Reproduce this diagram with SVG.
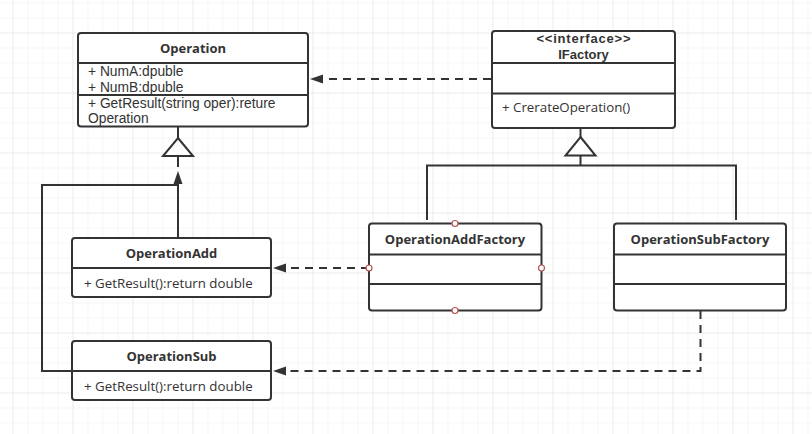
<svg xmlns="http://www.w3.org/2000/svg" width="812" height="434" viewBox="0 0 812 434">
  <defs>
    <pattern id="minor" patternUnits="userSpaceOnUse" x="12.5" y="2.5" width="15" height="15">
      <path d="M0 0 H15 M0 0 V15" fill="none" stroke="#efefef" stroke-width="1"/>
    </pattern>
    <pattern id="major" patternUnits="userSpaceOnUse" x="12.5" y="32.5" width="60" height="60">
      <path d="M0 0 H60 M0 0 V60" fill="none" stroke="#e2e2e2" stroke-width="1"/>
    </pattern>
    <marker id="arrow" markerUnits="userSpaceOnUse" markerWidth="14" markerHeight="10" refX="13" refY="5" orient="auto">
      <path d="M0 0.5 L13 5 L0 9.5 Z" fill="#333"/>
    </marker>
  </defs>
  <style>
    .box { fill: #fff; stroke: #333; stroke-width: 2; }
    .div { stroke: #333; stroke-width: 2; }
    .t { font-family: "Open Sans", "Liberation Sans", sans-serif; font-size: 13.3px; fill: #333; }
    .m { font-family: "Liberation Sans", Arial, sans-serif; font-size: 13.8px; fill: #333; }
    .b { font-weight: bold; text-anchor: middle; font-size: 13px; }
    .ln { fill: none; stroke: #333; stroke-width: 2; }
    .dash { fill: none; stroke: #333; stroke-width: 2; stroke-dasharray: 8 6; }
    .tri { fill: #fff; stroke: #333; stroke-width: 2; }
    .pt { fill: #fff; stroke: #b85450; stroke-width: 1.2; }
  </style>
  <rect width="812" height="434" fill="#fff"/>
  <rect width="812" height="434" fill="url(#minor)"/>
  <rect width="812" height="434" fill="url(#major)"/>

  <g id="connectors">
    <!-- IFactory -> Operation (dependency) -->
    <path class="dash" d="M491 79 H310" marker-end="url(#arrow)"/>
    <!-- Operation generalization -->
    <path class="ln" d="M178 127 V138"/>
    <path class="tri" d="M178 138 L193 156 L163 156 Z"/>
    <path class="ln" d="M178 157 V167"/>
    <path d="M178 171 L182.5 184 L173.5 184 Z" fill="#333"/>
    <path class="ln" d="M178 184 V238"/>
    <path class="ln" d="M178 185 H42 V371 H72"/>
    <!-- IFactory generalization -->
    <path class="ln" d="M580.5 128 V137"/>
    <path class="tri" d="M580.5 137 L595.5 155.5 L565.5 155.5 Z"/>
    <path class="ln" d="M580.5 155.5 V165.5"/>
    <path class="ln" d="M427 220 V165.5 H736 V220"/>
    <!-- OperationAddFactory -> OperationAdd -->
    <path class="dash" d="M369 268 H273" marker-end="url(#arrow)"/>
    <!-- OperationSubFactory -> OperationSub -->
    <path class="dash" d="M700.5 311 V371 H273" marker-end="url(#arrow)"/>
  </g>

  <g id="Operation">
    <rect class="box" x="78" y="33" width="230" height="93.5" rx="3"/>
    <line class="div" x1="78" y1="63" x2="308" y2="63"/>
    <line class="div" x1="78" y1="95" x2="308" y2="95"/>
    <text class="t b" x="193" y="52.5">Operation</text>
    <text class="m" x="88" y="76">+ NumA:dpuble</text>
    <text class="m" x="88" y="91.5">+ NumB:dpuble</text>
    <text class="m" x="88" y="107.5">+ GetResult(string oper):reture</text>
    <text class="m" x="88" y="123">Operation</text>
  </g>

  <g id="IFactory">
    <rect class="box" x="492" y="31" width="183" height="97" rx="3"/>
    <line class="div" x1="492" y1="63" x2="675" y2="63"/>
    <line class="div" x1="492" y1="93.5" x2="675" y2="93.5"/>
    <text class="m b" x="583.9" y="43.3" letter-spacing="0.8">&lt;&lt;interface&gt;&gt;</text>
    <text class="m b" x="583.5" y="59.3">IFactory</text>
    <text class="t" x="502" y="112.3">+ CrerateOperation()</text>
  </g>

  <g id="OperationAdd">
    <rect class="box" x="72" y="238" width="199" height="59" rx="3"/>
    <line class="div" x1="72" y1="268" x2="271" y2="268"/>
    <text class="t b" x="171.5" y="258">OperationAdd</text>
    <text class="t" x="84" y="288">+ GetResult():return double</text>
  </g>

  <g id="OperationSub">
    <rect class="box" x="72" y="341" width="199" height="59" rx="3"/>
    <line class="div" x1="72" y1="371" x2="271" y2="371"/>
    <text class="t b" x="171.5" y="361">OperationSub</text>
    <text class="t" x="84" y="391">+ GetResult():return double</text>
  </g>

  <g id="OperationAddFactory">
    <rect class="box" x="369" y="223.5" width="172.5" height="87" rx="3"/>
    <line class="div" x1="369" y1="254.5" x2="541.5" y2="254.5"/>
    <line class="div" x1="369" y1="284" x2="541.5" y2="284"/>
    <text class="t b" x="455" y="243.5">OperationAddFactory</text>
    <circle class="pt" cx="455" cy="223.5" r="3"/>
    <circle class="pt" cx="369" cy="268" r="3"/>
    <circle class="pt" cx="541.5" cy="268" r="3"/>
    <circle class="pt" cx="455" cy="310.5" r="3"/>
  </g>

  <g id="OperationSubFactory">
    <rect class="box" x="614" y="223.5" width="172" height="87" rx="3"/>
    <line class="div" x1="614" y1="254.5" x2="786" y2="254.5"/>
    <line class="div" x1="614" y1="284" x2="786" y2="284"/>
    <text class="t b" x="700" y="243.5">OperationSubFactory</text>
  </g>
</svg>
